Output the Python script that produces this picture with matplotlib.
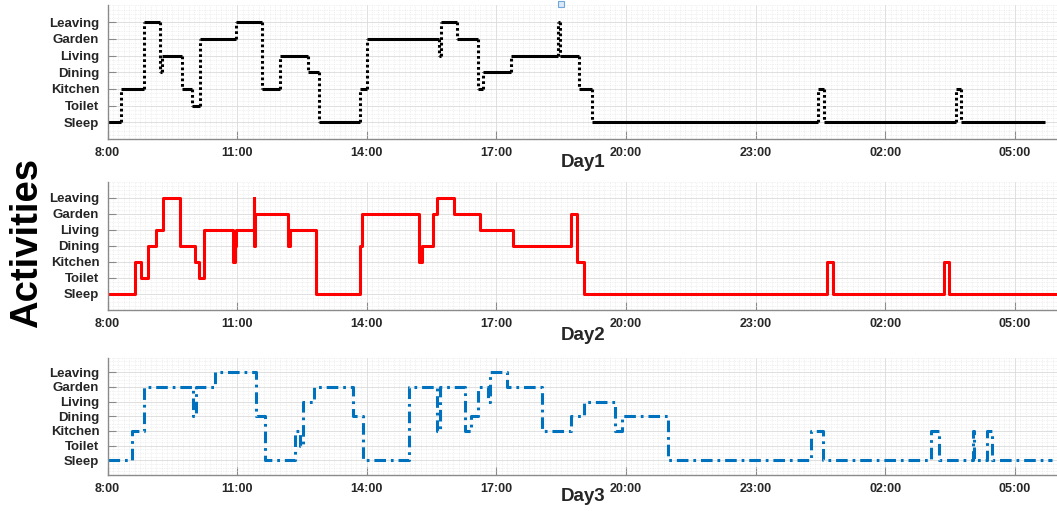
import matplotlib
matplotlib.use("Agg")
import matplotlib.pyplot as plt
from matplotlib.ticker import MultipleLocator
import numpy as np

plt.rcParams['font.family'] = ['Liberation Sans', 'DejaVu Sans']

# Activity levels (bottom to top)
activities = ["Sleep", "Toilet", "Kitchen", "Dining", "Living", "Garden", "Leaving"]

# Time axis ticks (clock labels, 8:00 through next morning)
tick_hours = [8, 11, 14, 17, 20, 23, 26, 29]
tick_labels = ["8:00", "11:00", "14:00", "17:00", "20:00", "23:00", "02:00", "05:00"]

# Day 1: change times and the activity that starts at each time; last entry ends the record
day1_times = ["08:00", "08:19", "08:51", "09:13", "09:16", "09:44", "09:57", "10:08",
              "10:58", "11:34", "11:59", "12:39", "12:53", "13:50", "14:00", "15:40",
              "15:43", "16:05", "16:35", "16:42", "17:20", "18:26", "18:28", "18:55",
              "19:13", "00:27", "00:35", "03:38", "03:45", "05:42"]
day1_acts = ["Sleep", "Kitchen", "Leaving", "Dining", "Living", "Kitchen", "Toilet", "Garden",
             "Leaving", "Kitchen", "Living", "Dining", "Sleep", "Kitchen", "Garden", "Living",
             "Leaving", "Garden", "Kitchen", "Dining", "Living", "Leaving", "Living", "Kitchen",
             "Sleep", "Kitchen", "Sleep", "Kitchen", "Sleep"]

# Day 2
day2_times = ["08:00", "08:38", "08:47", "08:56", "09:07", "09:17", "09:40", "10:02",
              "10:07", "10:14", "10:54", "10:57", "10:59", "11:23", "11:24", "11:25",
              "12:11", "12:14", "12:50", "13:50", "13:53", "15:13", "15:17", "15:32",
              "15:38", "16:01", "16:37", "17:23", "18:44", "18:52", "19:01", "00:39",
              "00:47", "03:22", "03:29", "06:00"]
day2_acts = ["Sleep", "Kitchen", "Toilet", "Dining", "Living", "Leaving", "Dining", "Kitchen",
             "Toilet", "Living", "Kitchen", "Dining", "Living", "Leaving", "Dining", "Garden",
             "Dining", "Living", "Sleep", "Dining", "Garden", "Kitchen", "Dining", "Garden",
             "Leaving", "Garden", "Living", "Dining", "Garden", "Kitchen", "Sleep", "Kitchen",
             "Sleep", "Kitchen", "Sleep"]

# Day 3
day3_times = ["08:00", "08:34", "08:50", "09:59", "10:03", "10:29", "11:26", "11:38",
              "12:20", "12:27", "12:31", "12:46", "13:41", "13:55", "14:59", "15:37",
              "15:41", "16:16", "16:25", "16:35", "16:49", "16:51", "17:15", "18:04",
              "18:44", "19:02", "19:45", "19:55", "20:59", "00:17", "00:34", "03:03",
              "03:15", "04:02", "04:04", "04:21", "04:29", "05:52"]
day3_acts = ["Sleep", "Kitchen", "Garden", "Dining", "Garden", "Leaving", "Dining", "Sleep",
             "Kitchen", "Toilet", "Living", "Garden", "Dining", "Sleep", "Garden", "Kitchen",
             "Garden", "Kitchen", "Dining", "Garden", "Living", "Leaving", "Garden", "Kitchen",
             "Dining", "Living", "Kitchen", "Dining", "Sleep", "Kitchen", "Sleep", "Kitchen",
             "Sleep", "Kitchen", "Sleep", "Kitchen", "Sleep"]


def to_hours(stamps):
    out = []
    for s in stamps:
        h, m = s.split(":")
        v = int(h) + int(m) / 60.0
        if v < 8:
            v += 24
        out.append(v)
    return np.array(out)


def to_levels(acts):
    return np.array([activities.index(a) for a in acts])


fig = plt.figure(figsize=(10.57, 5.11), dpi=100)
W, H = 1057.0, 511.0
left = 107.6 / W
width = 950.4 / W
panels = [(5.5, 139.0), (181.7, 310.0), (357.5, 475.0)]
label_y = [162, 335, 496]

text_col = "#262626"
axis_col = "#8a8a8a"

axes = []
for (top, bot) in panels:
    ax = fig.add_axes([left, 1 - bot / H, width, (bot - top) / H])
    axes.append(ax)

for i, ax in enumerate(axes):
    ax.set_xlim(8, 30)
    ax.set_ylim(-1, 7)
    ax.set_xticks(tick_hours)
    ax.set_xticklabels(tick_labels, fontsize=9, fontweight="bold", color=text_col)
    ax.set_yticks(range(len(activities)))
    ax.set_yticklabels(activities, fontsize=9.5, fontweight="bold", color=text_col)
    ax.xaxis.set_minor_locator(MultipleLocator(0.125))
    ax.yaxis.set_minor_locator(MultipleLocator(0.25))
    ax.tick_params(which="major", direction="in", length=6, width=0.8, color=axis_col, pad=6)
    ax.tick_params(which="minor", length=0)
    ax.grid(which="major", color="#dadada", linewidth=0.6, linestyle="-")
    ax.grid(which="minor", color="#e4e4e4", linewidth=0.5, linestyle=(0, (1, 1.5)))
    ax.set_axisbelow(True)
    for sp in ("top", "right"):
        ax.spines[sp].set_visible(False)
    for sp in ("left", "bottom"):
        ax.spines[sp].set_color(axis_col)
        ax.spines[sp].set_linewidth(1.0)
    bot = panels[i][1]
    height = panels[i][1] - panels[i][0]
    ax.set_xlabel("Day%d" % (i + 1), fontsize=13.5, fontweight="bold", color=text_col)
    ax.xaxis.set_label_coords(0.5, -(label_y[i] - bot) / height)
    ax.xaxis.label.set_verticalalignment("center")

# Day 1: solid horizontal stretches joined by dotted transitions
t1 = to_hours(day1_times)
s1 = to_levels(day1_acts)
axes[0].hlines(s1, t1[:-1], t1[1:], colors="black", linewidth=2.2)
axes[0].vlines(t1[1:-1], s1[:-1], s1[1:], colors="black", linewidth=2.2,
               linestyles=[(0, (0.9, 0.9))])

# Day 2: solid red step line
t2 = to_hours(day2_times)
s2 = to_levels(day2_acts)
axes[1].plot(t2, np.append(s2, s2[-1]), drawstyle="steps-post", color="red", linewidth=2.2)

# Day 3: dash-dot blue step line
t3 = to_hours(day3_times)
s3 = to_levels(day3_acts)
axes[2].plot(t3, np.append(s3, s3[-1]), drawstyle="steps-post", color="#0072BD",
             linewidth=2.2, linestyle=(0, (3.8, 1.6, 0.9, 1.6)))

fig.text(27 / W, 1 - 242.5 / H, "Activities", rotation=90, fontsize=27.5,
         fontweight="bold", color="black", ha="center", va="center")

# small selection marker at the top edge
fig.add_artist(plt.Line2D([561 / W], [1 - 4 / H], marker="s", markersize=4,
                          markerfacecolor="#dbe9f7", markeredgecolor="#6fa8dc",
                          markeredgewidth=0.8, linestyle="none"))

fig.savefig("out.png", dpi=100)
